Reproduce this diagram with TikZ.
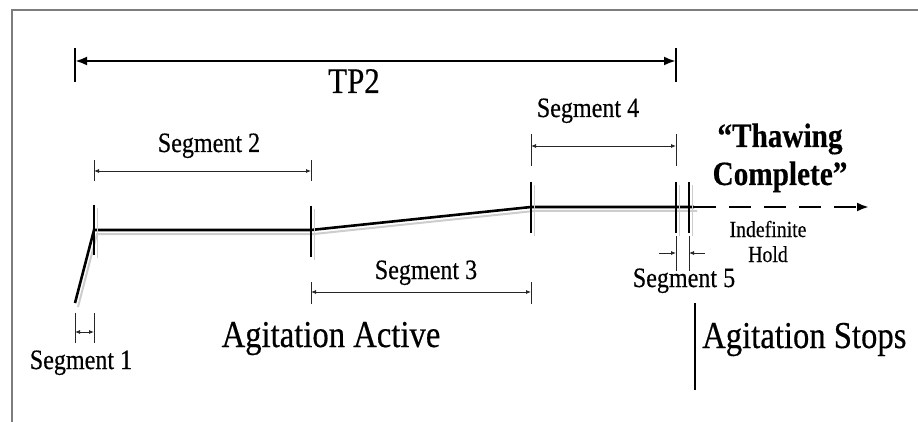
\documentclass[tikz,border=0pt]{standalone}
\usepackage{fontspec}
\setmainfont{Liberation Serif}[FakeStretch=0.86, FakeBold=0.4]
\usetikzlibrary{arrows.meta, positioning, calc}
\definecolor{framegray}{RGB}{125,125,125}
\definecolor{shadowgray}{RGB}{205,205,205}
\tikzset{
  profile/.style  = {line width=2.6pt, black},
  shade/.style    = {line width=2pt, shadowgray},
  tickmark/.style = {line width=2.6pt, black},
  extline/.style  = {line width=0.8pt, black!85},
  dimline/.style  = {{Latex[length=5pt,width=4pt]}-{Latex[length=5pt,width=4pt]},
                     line width=0.8pt, black!85},
  inarrow/.style  = {-{Latex[length=5pt,width=4pt]}, line width=0.8pt, black!85},
  seglabel/.style = {anchor=base, inner sep=0pt, font=\fontsize{28}{30}\selectfont},
  smalllabel/.style = {anchor=base, inner sep=0pt, align=center,
                       font=\fontsize{23}{25}\selectfont},
  biglabel/.style = {anchor=base, inner sep=0pt, font=\fontsize{38}{40}\selectfont},
}

\begin{document}
\begin{tikzpicture}[x=1pt, y=-1pt]
  \useasboundingbox (0,0) rectangle (918,422);
  % outer frame
  \draw[framegray, line width=1.2pt] (12,422) -- (12,10) -- (918,10);

  % total span
  \coordinate (tpL) at (75,61);
  \coordinate (tpR) at (676,61);
  \draw[tickmark] (75,48) -- (75,82);
  \draw[tickmark] (676,48) -- (676,82);
  \draw[line width=2.6pt, {Latex[length=12pt,width=9pt]}-{Latex[length=12pt,width=9pt]}]
    (tpL) -- (tpR);
  \node[biglabel, font=\fontsize{36}{40}\selectfont] (tp) at (354,93) {TP2};

  % profile points
  \foreach \i/\x/\y in {p0/75/303, p1/94/230, p2/311/230, p3/531/207, p4/694/207, p5/869/207} {
    \coordinate (\i) at (\x,\y);
    \coordinate (\i s) at (\x+3,\y+4);
  }
  \draw[shade] (p0s) -- (p1s) -- (p2s) -- (p3s) -- (p4s);
  \draw[profile, line join=miter] (p0) -- (p1) -- (p2) -- (p3) -- (p4);
  \draw[line width=2.8pt, dash pattern=on 22pt off 13pt,
        -{Latex[length=12pt,width=9pt]}] (p4) -- (p5);

  % segment boundaries
  \foreach \t/\x/\ya/\yb in {t1/94/205/255, t2/311/206/257, t3/531/182/233,
                             t4/676/182/233, t5/689/182/233} {
    \coordinate (\t top) at (\x,\ya);
    \coordinate (\t bot) at (\x,\yb);
    \draw[shade, line width=1pt] (\x+3,\ya+3) -- (\x+3,\yb+3);
    \draw[tickmark] (\t top) -- (\t bot);
  }

  % dimension lines
  \foreach \d/\xa/\xb/\y/\ya/\yb in {s1/75/94/332/313/343, s2/94/311/171/160/181,
                                     s3/311/531/292/282/304, s4/531/676/146/134/166} {
    \coordinate (\d a) at (\xa,\y);
    \coordinate (\d b) at (\xb,\y);
    \draw[extline] (\xa,\ya) -- (\xa,\yb);
    \draw[extline] (\xb,\ya) -- (\xb,\yb);
    \draw[dimline] (\d a) -- (\d b);
  }
  \node[seglabel] (seg1) at (81,369) {Segment 1};
  \node[seglabel] (seg2) at (209,152) {Segment 2};
  \node[seglabel] (seg3) at (426,279) {Segment 3};
  \node[seglabel] (seg4) at (588,117) {Segment 4};

  % short last segment
  \draw[extline] (676,236) -- (676,271);
  \draw[extline] (689,236) -- (689,271);
  \coordinate (s5l) at (659,253);
  \coordinate (s5r) at (705,253);
  \draw[inarrow] (s5l) -- (676,253);
  \draw[inarrow] (s5r) -- (689,253);
  \node[seglabel] (seg5) at (684,287) {Segment 5};

  % multi-line nodes: base is the last line
  \node[smalllabel] (hold) at (768,262) {Indefinite\\Hold};
  \node[biglabel, align=center, font=\fontsize{34}{38}\selectfont\bfseries]
    (thaw) at (780,185) {“Thawing\\Complete”};

  % agitation states
  \node[biglabel] (active) at (331,347) {Agitation Active};
  \draw[line width=2.4pt] (695,303) -- (695,390);
  \node[biglabel, anchor=base west] (stops) at (702,348) {Agitation Stops};
\end{tikzpicture}
\end{document}
